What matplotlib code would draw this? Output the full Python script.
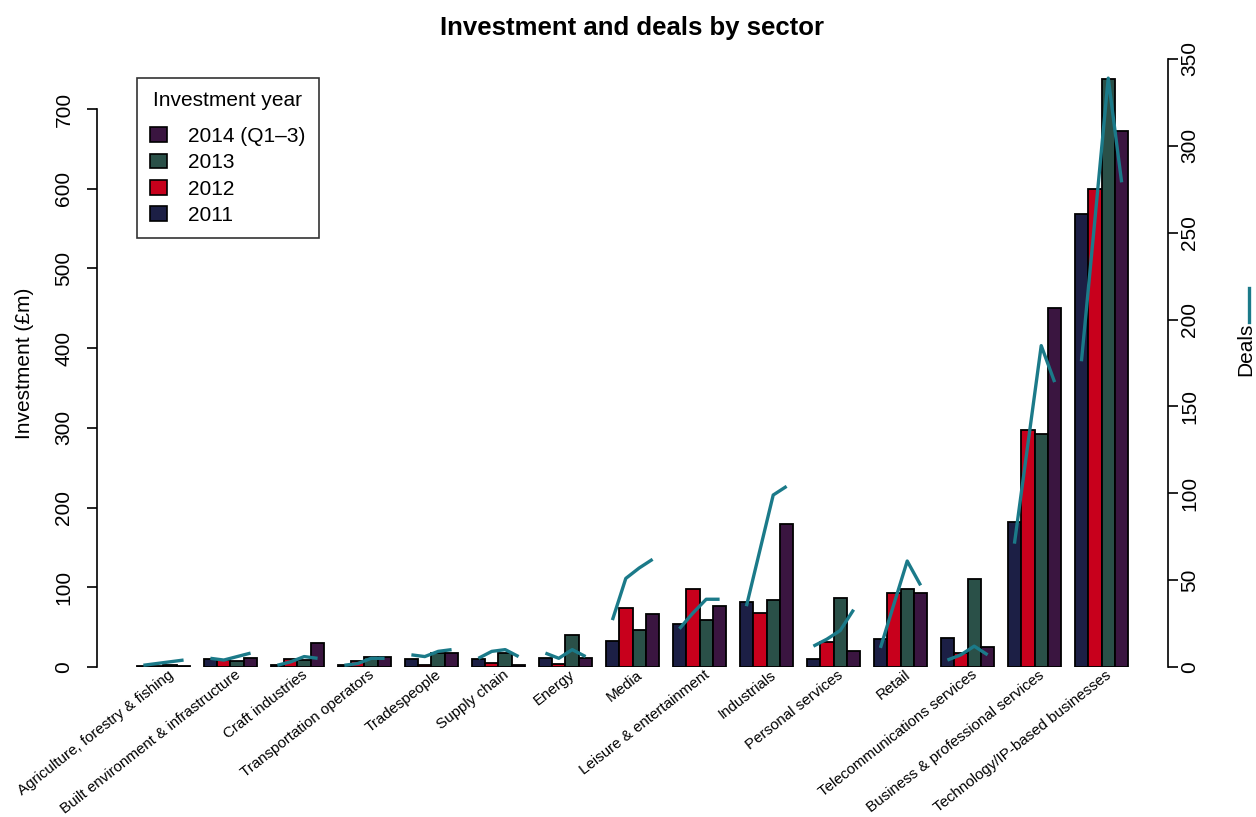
import matplotlib
matplotlib.use("Agg")
import matplotlib.pyplot as plt
from matplotlib.patches import Patch
from matplotlib.lines import Line2D
import numpy as np

plt.rcParams['font.family'] = ['Liberation Sans', 'DejaVu Sans']

sectors = ['Agriculture, forestry & fishing', 'Built environment & infrastructure',
           'Craft industries', 'Transportation operators', 'Tradespeople',
           'Supply chain', 'Energy', 'Media', 'Leisure & entertainment',
           'Industrials', 'Personal services', 'Retail',
           'Telecommunications services', 'Business & professional services',
           'Technology/IP-based businesses']
years = ['2011', '2012', '2013', '2014 (Q1\u20133)']
colors = ['#1c1f45', '#c8001c', '#2a5048', '#3a1540']

# investment (GBP m) per year
inv_2011 = [1, 10, 3, 2, 10, 10, 11, 33, 54, 82, 10, 35, 36, 182, 568]
inv_2012 = [1, 9, 10, 7, 3, 5, 4, 74, 98, 68, 31, 93, 18, 297, 600]
inv_2013 = [2, 7, 9, 12, 18, 18, 40, 46, 59, 84, 87, 98, 110, 292, 738]
inv_2014 = [1, 11, 30, 12, 18, 3, 11, 67, 77, 180, 20, 93, 25, 450, 673]

# number of deals per year
deals_2011 = [1, 5, 1, 1, 7, 5, 8, 27, 22, 35, 12, 11, 4, 71, 176]
deals_2012 = [2, 4, 3, 2, 6, 9, 5, 51, 31, 67, 16, 36, 7, 128, 257]
deals_2013 = [3, 6, 6, 5, 9, 10, 10, 57, 39, 99, 21, 61, 12, 185, 339]
deals_2014 = [4, 8, 5, 5, 10, 6, 6, 62, 39, 104, 33, 47, 7, 164, 279]

inv = np.array([inv_2011, inv_2012, inv_2013, inv_2014])
deals = np.array([deals_2011, deals_2012, deals_2013, deals_2014])

fig = plt.figure(figsize=(12.56, 8.17), dpi=100)
ax = fig.add_axes([97 / 1256, 150 / 817, 1071 / 1256, 608 / 817])
ax2 = ax.twinx()

# R-style beside barplot: bar width 1, one unit gap between groups
n = len(sectors)
for j in range(4):
    x = np.arange(n) * 5 + 1.5 + j
    ax.bar(x, inv[j], width=1, color=colors[j], edgecolor='black', linewidth=1.3)

for i in range(n):
    x = i * 5 + 1.5 + np.arange(4)
    ax2.plot(x, deals[:, i], color='#1b7a89', lw=2.4, solid_capstyle='butt')

ax.set_xlim(-1.96, 77.96)
ax.set_ylim(0, 762.8)
ax2.set_ylim(0, 350)

for a in (ax, ax2):
    for s in ('top', 'bottom'):
        a.spines[s].set_visible(False)
    a.set_xticks([])
ax.spines['right'].set_visible(False)
ax2.spines['left'].set_visible(False)
ax.spines['left'].set_bounds(0, 700)
ax2.spines['right'].set_bounds(0, 350)
ax.spines['left'].set_linewidth(1.2)
ax2.spines['right'].set_linewidth(1.2)

ax.set_yticks(np.arange(0, 701, 100))
ax2.set_yticks(np.arange(0, 351, 50))
ax.tick_params(axis='y', length=7, width=1.2, labelsize=15, pad=10)
ax2.tick_params(axis='y', length=7, width=1.2, labelsize=15, pad=2)
for lab in ax.get_yticklabels() + ax2.get_yticklabels():
    lab.set_rotation(90)
    lab.set_va('center')

ax.set_ylabel('Investment (\u00a3m)', fontsize=15, labelpad=15)

for i, name in enumerate(sectors):
    ax.text(i * 5 + 3.6, -8, name, rotation=38, rotation_mode='anchor',
            ha='right', va='center', fontsize=10.9, clip_on=False)

# deals axis label with a line sample
fig.text(1246 / 1256, 1 - 349 / 817, 'Deals', rotation=90, fontsize=15,
         ha='center', va='center')
fig.add_artist(Line2D([1249 / 1256, 1249 / 1256], [1 - 322 / 817, 1 - 288 / 817],
                      color='#1b7a89', lw=2.4, transform=fig.transFigure))

fig.text(632 / 1256, 1 - 28 / 817, 'Investment and deals by sector',
         fontsize=18.5, fontweight='bold', ha='center', va='center')

handles = [Patch(facecolor=colors[j], edgecolor='black', linewidth=1.2, label=years[j])
           for j in range(3, -1, -1)]
leg = ax.legend(handles=handles, title='Investment year', loc='upper left',
                bbox_to_anchor=(0.0373, 0.969), borderaxespad=0, fontsize=15,
                title_fontsize=15, frameon=True, fancybox=False,
                handlelength=0.8, handleheight=0.7, handletextpad=1.0,
                labelspacing=0.35, borderpad=0.65)
leg._legend_box.sep = 12
leg.get_frame().set_edgecolor('black')
leg.get_frame().set_linewidth(1.2)

fig.savefig('out.png', dpi=100)
